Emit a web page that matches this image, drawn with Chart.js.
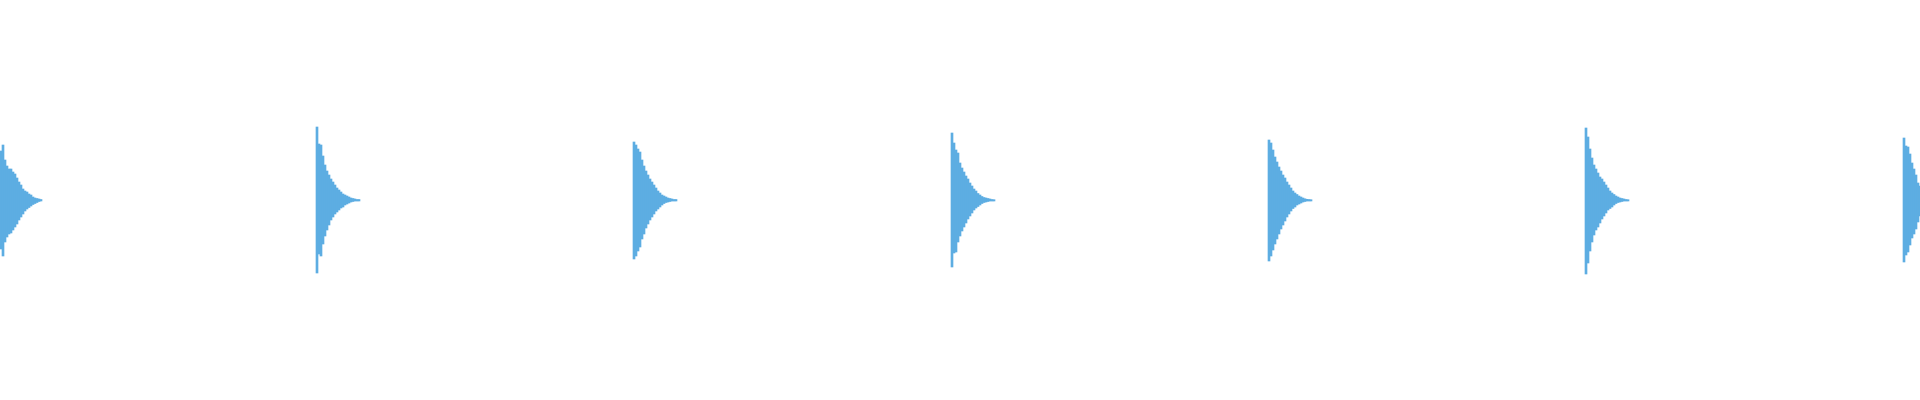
<!DOCTYPE html>
<html lang="en">
<head>
<meta charset="utf-8">
<title>Waveform</title>
<script src="https://cdn.jsdelivr.net/npm/chart.js@4.4.1/dist/chart.umd.min.js"></script>
<style>
	html, body { margin: 0; padding: 0; background: #ffffff; }
	#waveWrap { width: 1920px; height: 400px; }
</style>
</head>
<body>
<div id="waveWrap"><canvas id="waveChart" width="1920" height="400"></canvas></div>
<script>
// time (ms) at which each beat starts, and the spacing between envelope samples
const onsets = [0, 316, 633, 951, 1268, 1585, 1903];
const sampleStep = 2;

// peak level above / below zero for every sample of each beat, % of full scale
const beat1Top = [24.5, 27.5, 20, 17, 15.5, 15.5, 14, 13, 11, 9, 7.5, 5.5, 4.5, 4, 3, 2.5, 1.5, 1, 0.75, 0.5, 0.25];
const beat1Bottom = [24.5, 28, 21, 18.5, 17, 16.5, 15, 13.5, 12, 10, 8.5, 7, 5.5, 4.5, 3.75, 3, 2.25, 1.75, 1.25, 0.75, 0.5];

const beat2Top = [36.5, 28, 27.5, 22, 17.5, 14.5, 12.5, 10.5, 9, 7.5, 6, 5, 4, 3, 2.5, 2, 1.5, 1, 0.75, 0.5, 0.25, 0.25];
const beat2Bottom = [36.5, 27, 28, 22, 18, 15, 12.5, 10, 8.5, 7, 6, 5, 4, 3.5, 2.5, 2, 1.5, 1, 0.75, 0.5, 0.5, 0.5];

const beat3Top = [29, 27.5, 25.5, 24, 20, 17, 14.5, 12.5, 10.5, 9, 7.5, 6, 4.5, 3.5, 2.5, 2, 1.5, 1, 0.75, 0.5, 0.25, 0.25];
const beat3Bottom = [29.5, 28, 25.5, 23.5, 19.5, 17, 14, 12, 10, 8.5, 7, 5.5, 4.5, 3.5, 2.5, 1.75, 1.25, 1, 0.75, 0.5, 0.5, 0.5];

const beat4Top = [33.5, 28.5, 25, 23.5, 18.5, 16, 14, 12, 10.5, 8.5, 7, 5.5, 4.5, 3.25, 2.5, 1.75, 1.25, 1, 0.75, 0.5, 0.25, 0.15];
const beat4Bottom = [33.5, 26.5, 26, 21, 18, 15.5, 13.5, 11.5, 9.5, 8, 6.5, 5, 4, 3.25, 2.5, 1.75, 1.25, 1, 0.75, 0.5, 0.5, 0.5];

const beat5Top = [30, 28.5, 25, 21.5, 19, 16.5, 14.5, 12.5, 11, 9, 7.5, 6, 4.5, 3.5, 2.75, 2, 1.5, 1, 0.6, 0.35, 0.25, 0.15];
const beat5Bottom = [30.5, 28, 25, 22, 19.5, 17, 14.5, 12.5, 10.5, 8.5, 7, 5.5, 4.25, 3.5, 2.5, 2, 1.5, 1, 0.75, 0.5, 0.5, 0.5];

const beat6Top = [36, 31.5, 25.5, 21, 17.5, 15.5, 13.5, 11.5, 10.5, 9, 7.5, 6, 4.5, 3.5, 2.75, 2, 1.5, 1, 0.75, 0.5, 0.25, 0.15];
const beat6Bottom = [37, 31.5, 25.5, 21, 17.5, 15, 13.5, 11.5, 9.5, 8, 6.5, 5, 4.25, 3.5, 2.5, 1.75, 1.25, 1, 0.75, 0.5, 0.5, 0.5];

const beat7Top = [31, 27, 26.5, 23, 18.5, 15.5, 12.5, 8.5, 7];
const beat7Bottom = [31, 27.5, 26, 22.5, 19, 17, 14.5, 11, 8];

const beatTops = [beat1Top, beat2Top, beat3Top, beat4Top, beat5Top, beat6Top, beat7Top];
const beatBottoms = [beat1Bottom, beat2Bottom, beat3Bottom, beat4Bottom, beat5Bottom, beat6Bottom, beat7Bottom];

function buildEnvelope() {
	const points = [];
	onsets.forEach((start, beat) => {
		const tops = beatTops[beat];
		const bottoms = beatBottoms[beat];
		tops.forEach((top, i) => {
			points.push({
				x: start + i * sampleStep + sampleStep / 2,
				y: [-bottoms[i], top],
			});
		});
	});
	return points;
}

function renderWave() {
	const ctx = document.getElementById('waveChart');
	if (!ctx || typeof Chart === 'undefined') return;

	new Chart(ctx.getContext('2d'), {
		type: 'bar',
		data: {
			datasets: [
				{
					label: 'Level',
					data: buildEnvelope(),
					backgroundColor: '#5dade2',
					borderWidth: 0,
					borderSkipped: false,
					barThickness: sampleStep,
					grouped: false,
				},
			],
		},
		options: {
			responsive: false,
			animation: false,
			layout: { padding: 0 },
			scales: {
				x: { type: 'linear', min: 0, max: 1920, offset: false, display: false },
				y: { min: -100, max: 100, display: false },
			},
			plugins: {
				legend: { display: false },
				tooltip: { enabled: false },
			},
		},
	});
}

document.addEventListener('DOMContentLoaded', renderWave);
</script>
</body>
</html>
